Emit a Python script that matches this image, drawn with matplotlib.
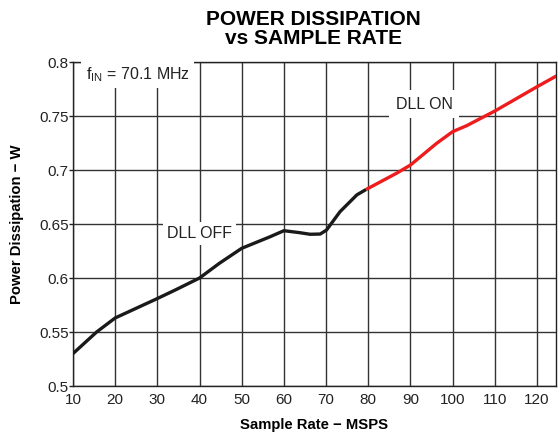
import matplotlib
matplotlib.use("Agg")
import matplotlib.pyplot as plt

plt.rcParams.update({
    "font.family": ["Liberation Sans", "DejaVu Sans"],
})

# Sample rate (MSPS) and power dissipation (W)
rate_off = [10, 15.6, 20, 25, 30, 34.3, 40, 44.7, 50, 56.6, 60, 63.7, 66.2, 68.6, 70.1, 73.3, 77.3, 79.5]
power_off = [0.530, 0.550, 0.563, 0.572, 0.581, 0.589, 0.600, 0.6136, 0.6275, 0.638, 0.6438,
             0.6420, 0.6405, 0.6407, 0.6444, 0.6614, 0.677, 0.682]
rate_on = [79.5, 86.7, 90, 96.2, 100, 103.3, 110, 120, 124.7]
power_on = [0.682, 0.697, 0.7046, 0.7247, 0.7355, 0.741, 0.7546, 0.7771, 0.7873]

x_ticks = [10, 20, 30, 40, 50, 60, 70, 80, 90, 100, 110, 120]
y_ticks = [0.5, 0.55, 0.6, 0.65, 0.7, 0.75, 0.8]
y_labels = ["0.5", "0.55", "0.6", "0.65", "0.7", "0.75", "0.8"]

fig = plt.figure(figsize=(5.58, 4.37), dpi=100)
ax = fig.add_axes([0.1308, 0.1167, 0.8656, 0.7414])

ax.plot(rate_off, power_off, color="#1a1a1a", lw=2.4, solid_capstyle="butt", zorder=3)
ax.plot(rate_on, power_on, color="#ee1c1c", lw=2.4, solid_capstyle="butt", zorder=3)

ax.set_xlim(10, 124.5)
ax.set_ylim(0.5, 0.8)
ax.set_xticks(x_ticks)
ax.set_yticks(y_ticks)
ax.set_yticklabels(y_labels)
ax.tick_params(axis="y", length=3, width=1, direction="out", labelsize=11, pad=0, colors="#222")
ax.tick_params(axis="x", length=0, labelsize=11, pad=5, colors="#222")
ax.grid(True, color="#333", lw=1.0)
ax.set_axisbelow(True)
for s in ax.spines.values():
    s.set_color("#222")
    s.set_linewidth(1.0)

ax.set_xlabel("Sample Rate \u2212 MSPS", fontsize=10.7, fontweight="bold", labelpad=8)
ax.set_ylabel("Power Dissipation \u2212 W", fontsize=10.7, fontweight="bold", labelpad=11)

box = dict(facecolor="white", edgecolor="none", pad=3)
ax.text(13, 0.788, "f$_{\\mathregular{IN}}$ = 70.1 MHz", fontsize=11.5, va="center", ha="left",
        bbox=box, zorder=4, color="#222")
ax.text(40, 0.641, "DLL OFF", fontsize=11.5, va="center", ha="center", bbox=box, zorder=4, color="#222")
ax.text(93.2, 0.761, "DLL ON", fontsize=11.5, va="center", ha="center",
        bbox=dict(facecolor="white", edgecolor="none", pad=5), zorder=4, color="#222")

fig.text(0.561, 0.934, "POWER DISSIPATION\nvs SAMPLE RATE", ha="center", va="center",
         fontsize=15, fontweight="bold", linespacing=1.0)

fig.savefig("out.png", dpi=100)
